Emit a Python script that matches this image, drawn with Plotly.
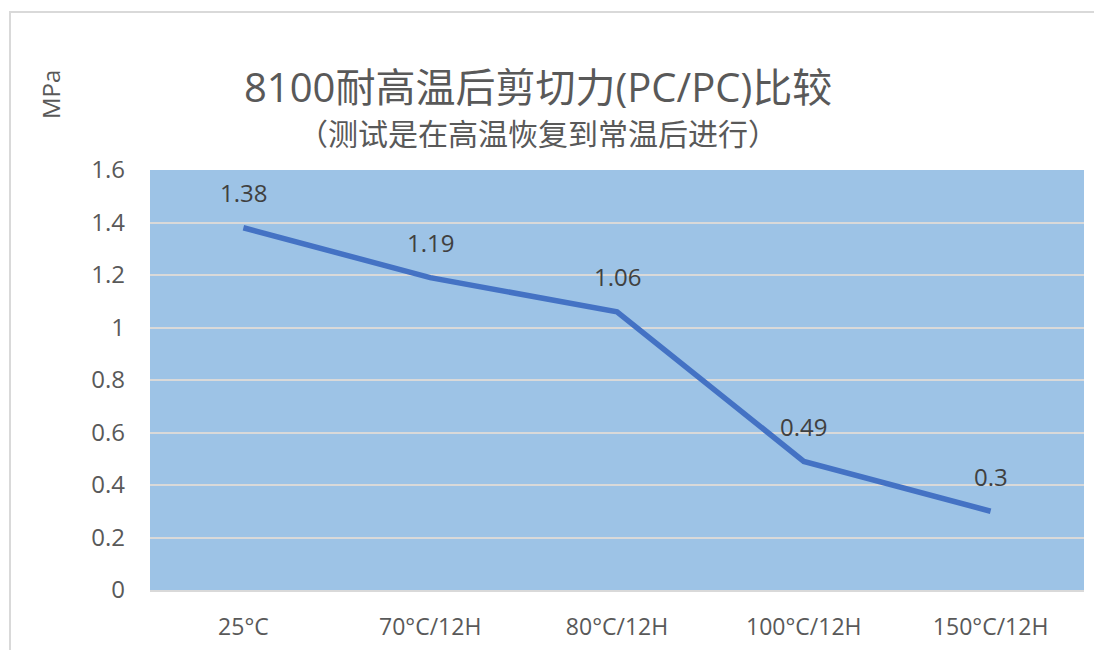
import plotly.graph_objects as go

categories = ["25°C", "70°C/12H", "80°C/12H", "100°C/12H", "150°C/12H"]
values = [1.38, 1.19, 1.06, 0.49, 0.3]
value_labels = ["1.38", "1.19", "1.06", "0.49", "0.3"]
y_ticks = [0, 0.2, 0.4, 0.6, 0.8, 1.0, 1.2, 1.4, 1.6]
y_tick_labels = ["0", "0.2", "0.4", "0.6", "0.8", "1", "1.2", "1.4", "1.6"]

title_text = "8100耐高温后剪切力(PC/PC)比较"
subtitle_text = "（测试是在高温恢复到常温后进行）"
y_title = "MPa"

FONT = "Open Sans, Noto Sans CJK SC, sans-serif"
GRAY = "#595959"

# page has an 8px body margin; figure placed at (8, 8)
OFF = 8
W, H = 1094, 642
# plot area in page coordinates
P_LEFT, P_RIGHT, P_TOP, P_BOTTOM = 150, 1084, 170, 590
L = P_LEFT - OFF
R = W - (P_RIGHT - OFF)
T = P_TOP - OFF
B = H - (P_BOTTOM - OFF)
pw, ph = P_RIGHT - P_LEFT, P_BOTTOM - P_TOP

def px(x):
    return (x - P_LEFT) / pw

def py(y):
    return (P_BOTTOM - y) / ph

fig = go.Figure()
fig.add_trace(go.Scatter(
    x=categories, y=values, mode="lines",
    line=dict(color="#4472C4", width=5.5),
    hoverinfo="skip",
))
for c, v, t in zip(categories, values, value_labels):
    fig.add_annotation(x=c, y=v, text=t, showarrow=False, yshift=35,
                       font=dict(size=24, color="#404040", family=FONT))

fig.update_layout(
    width=W, height=H,
    margin=dict(l=L, r=R, t=T, b=B, autoexpand=False),
    paper_bgcolor="white",
    plot_bgcolor="#9DC3E6",
    showlegend=False,
    font=dict(family=FONT, color=GRAY),
    xaxis=dict(
        type="category", range=[-0.5, 4.5], showgrid=False,
        showline=True, linecolor="#D9D9D9", linewidth=2,
        tickfont=dict(size=23, color=GRAY), ticks="", ticklabelstandoff=15,
        fixedrange=True, automargin=False,
    ),
    yaxis=dict(
        range=[0, 1.6], tickvals=y_ticks, ticktext=y_tick_labels,
        showgrid=True, gridcolor="#D9D9D9", gridwidth=2,
        zeroline=False, showline=False,
        tickfont=dict(size=24, color=GRAY), ticks="", ticklabelstandoff=24,
        fixedrange=True, automargin=False,
    ),
)

fig.add_annotation(xref="paper", yref="paper", x=px(538), y=py(86), text=title_text,
                   showarrow=False, font=dict(size=40, color=GRAY, family=FONT),
                   xanchor="center", yanchor="middle")
fig.add_annotation(xref="paper", yref="paper", x=px(538), y=py(133), text=subtitle_text,
                   showarrow=False, font=dict(size=30, color=GRAY, family=FONT),
                   xanchor="center", yanchor="middle")
fig.add_annotation(xref="paper", yref="paper", x=px(51), y=py(95), text=y_title,
                   showarrow=False, textangle=-90, font=dict(size=24, color=GRAY, family=FONT),
                   xanchor="center", yanchor="middle")

# outer chart border
fig.add_shape(type="rect", xref="paper", yref="paper",
              x0=px(10), x1=px(1130), y0=py(12), y1=py(700),
              line=dict(color="#D9D9D9", width=2), fillcolor="rgba(0,0,0,0)", layer="below")

fig.write_html("out.html")
